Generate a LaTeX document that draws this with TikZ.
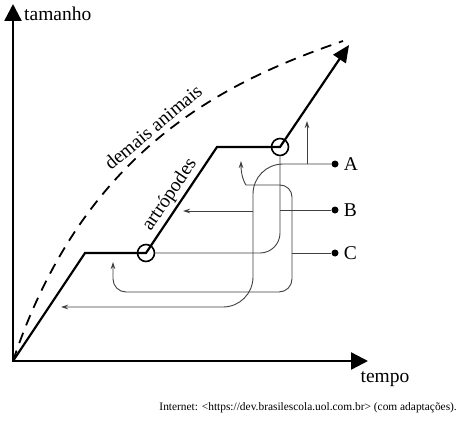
\documentclass[tikz,border=0pt]{standalone}
\usepackage{fontspec}
\setmainfont{Liberation Serif}
\usepackage{tikz}
\usetikzlibrary{arrows.meta}
\usetikzlibrary{positioning}

\begin{document}
\begin{tikzpicture}[x=1pt, y=-1pt,
		axis/.style={line width=2.4pt, {Triangle[length=17pt,width=17pt]}-{Triangle[length=17pt,width=17pt]}},
		growth/.style={line width=2.2pt, -{Triangle[length=17pt,width=15pt]}},
		guess/.style={line width=1.8pt, dash pattern=on 11pt off 8pt},
		molt/.style={draw, circle, line width=1.6pt, minimum size=17pt, inner sep=0pt},
		dot/.style={fill, circle, inner sep=0pt, minimum size=7pt},
		conn/.style={line width=0.9pt, black!75, -{Stealth[length=7pt,width=4.5pt]}},
		plain/.style={line width=0.9pt, black!75},
		lbl/.style={inner sep=0pt, font=\fontsize{19.5}{22}\selectfont},
		srcnote/.style={inner sep=0pt, font=\fontsize{11.4}{13}\selectfont}]
			\fill[white] (0,0) rectangle (460,420);
			\useasboundingbox (0,0) rectangle (460,420); %alignment

			\coordinate (O) at (13,361);
			\coordinate (ytip) at (13,4);
			\coordinate (xtip) at (368,361);
			\coordinate (p1) at (85,253);
			\coordinate (p2) at (217,147);
			\coordinate (tip) at (349,45);
			\coordinate (dEnd) at (343,41);

			\node[molt] (m1) at (146,253) {};
			\node[molt] (m2) at (280,147) {};

			\draw[axis] (ytip) -- (O) -- (xtip);
			\draw[guess] (O) .. controls (84,149) and (224,82) .. (dEnd);
			\draw[growth] (O) -- (p1) -- (m1.center) -- (p2) -- (m2.center) -- (tip);

			\node[lbl, anchor=west] (ylab) at (24,14) {tamanho};
			\node[lbl] (xlab) at (385,379) {tempo};
			\node[lbl, rotate=40] (lab1) at (153,127) {demais animais};
			\node[lbl, rotate=56] (lab2) at (170,195) {artrópodes};

			\node[dot] (dotA) at (335,164) {};
			\node[dot] (dotB) at (335,210) {};
			\node[dot] (dotC) at (335,253) {};
			\node[lbl, right=5pt of dotA] (labA) {A};
			\node[lbl, right=5pt of dotB] (labB) {B};
			\node[lbl, right=5pt of dotC] (labC) {C};

			% A
			\coordinate (jA) at (307,164);
			\coordinate (upA) at (307,121);
			\coordinate (midA) at (253,211);
			\coordinate (leftA) at (183,211);
			\coordinate (lowA) at (61,307);
			\draw[conn, rounded corners=30] (dotA) -- (253,164) -- (253,307) -- (lowA);
			\draw[conn] (jA) -- (upA);
			\draw[conn] (midA) -- (leftA);

			% B
			\coordinate (jB) at (280,210);
			\draw[plain] (dotB) -- (jB);
			\draw[plain, rounded corners=20] (m2.south) -- (280,253) -- (m1.east);

			% C
			\coordinate (jC) at (292,253);
			\coordinate (hiC) at (241,161);
			\coordinate (loC) at (113,262);
			\draw[plain] (dotC) -- (jC);
			\draw[conn, rounded corners=12] (jC) -- (292,185) -- (258,185) [sharp corners] .. controls (246,185) and (241,178) .. (hiC);
			\draw[conn, rounded corners=13] (jC) -- (292,292) -- (113,292) -- (loC);

			\node[srcnote, anchor=east] (src) at (457,408) {Internet: <https://dev.brasilescola.uol.com.br> (com adaptações).};
\end{tikzpicture}
\end{document}
